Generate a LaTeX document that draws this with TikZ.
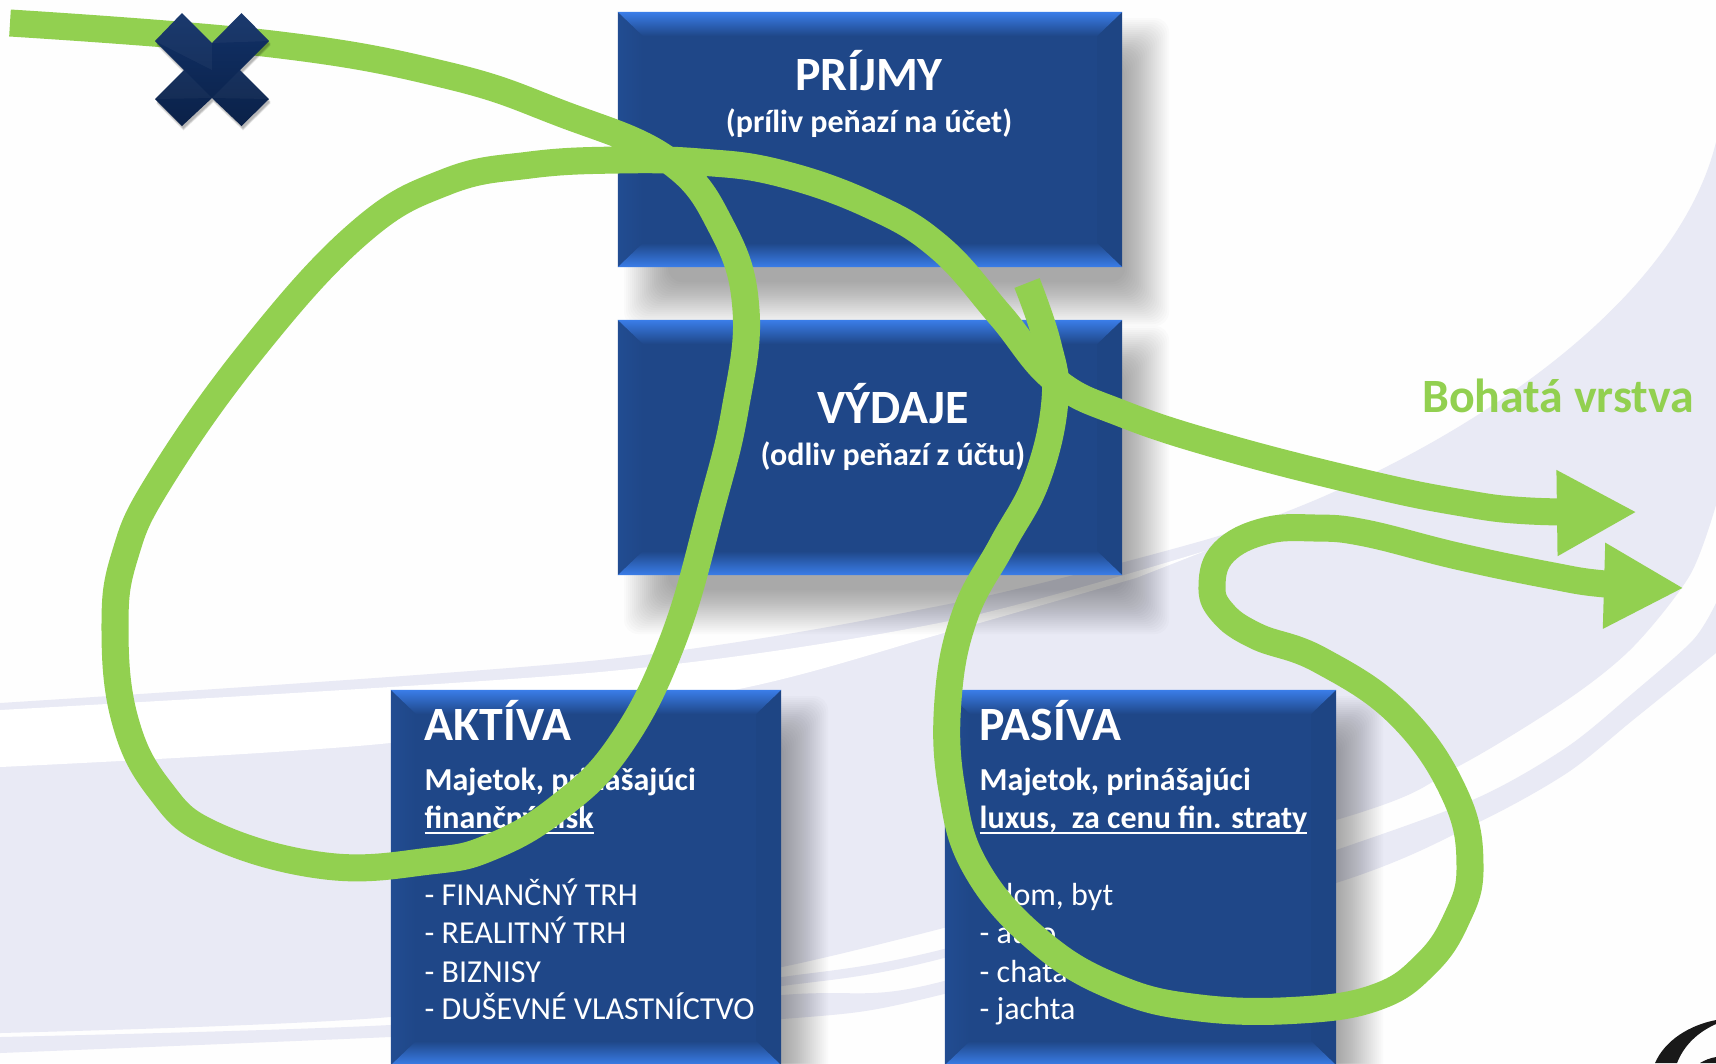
\documentclass[tikz,border=0pt]{standalone}
\usepackage{fontspec}
\setmainfont{Carlito}
\usetikzlibrary{%
  arrows.meta,%
  calc%
}
\definecolor{boxblue}{HTML}{1F4788}
\definecolor{bevelblue}{HTML}{3A7DE8}
\definecolor{crossblue}{HTML}{0E2C60}
\definecolor{swoosh}{HTML}{E9EAF5}
\definecolor{flowgreen}{HTML}{92D050}
\tikzset{
  blockbox/.style={
    fill=boxblue, inner sep=0pt,
    path picture={
      \coordinate (nw) at (path picture bounding box.north west);
      \coordinate (ne) at (path picture bounding box.north east);
      \coordinate (sw) at (path picture bounding box.south west);
      \coordinate (se) at (path picture bounding box.south east);
      \shade[left color=boxblue!90!bevelblue, right color=boxblue] (nw) -- ($(nw)+(25,24)$) -- ($(sw)+(25,-24)$) -- (sw) -- cycle;
      \fill[boxblue!97!black] (ne) -- ($(ne)+(-25,24)$) -- ($(se)+(-25,-24)$) -- (se) -- cycle;
      \shade[top color=bevelblue, bottom color=boxblue] (nw) -- (ne) -- ($(ne)+(-25,24)$) -- ($(nw)+(25,24)$) -- cycle;
      \shade[top color=boxblue, bottom color=bevelblue] (sw) -- (se) -- ($(se)+(-25,-24)$) -- ($(sw)+(25,-24)$) -- cycle;
    }
  },
  titletext/.style={text=white, font=\fontsize{13.6}{16}\selectfont\bfseries, inner sep=0pt},
  subtext/.style={text=white, font=\fontsize{9.1}{11}\selectfont\bfseries, inner sep=0pt},
  listtext/.style={text=white, font=\fontsize{9.1}{11}\selectfont, inner sep=0pt},
  flowline/.style={draw=flowgreen, line width=0.27cm, line join=round},
  flowhead/.style={-{Triangle[length=0.8cm,width=0.8cm]}}
}
\newcommand{\crossoutline}{(182,13) -- (212,43) -- (241.5,13) -- (269,41) -- (240,70) -- (269,99) -- (241.5,126) -- (212,98) -- (182,126) -- (155,99) -- (184,70) -- (155,41) -- cycle}
\newcommand{\ulinetext}[1]{\underline{\smash{#1}}}

\begin{document}
\begin{tikzpicture}[x=0.01cm, y=-0.01cm]

\useasboundingbox (0,0) rectangle (1716,1063);
\clip (0,0) rectangle (1716,1063);
\fill[white!99.5!black] (0,0) rectangle (1716,1063);

% swooshes behind everything
\fill[swoosh] (1716,142) .. controls (1680,290) and (1500,420) .. (1320,498)
  -- plot[smooth] coordinates {(1320,498) (1205,540) (944,605) (600,660) (0,703)}
  -- plot[smooth] coordinates {(0,1033) (390,1017) (782,967) (1336,820) (1457,767) (1567,700) (1633,647) (1690,575) (1716,505)} -- cycle;
\fill[white] plot[smooth] coordinates {(1205,551) (944,622) (600,672) (0,710)}
  -- plot[smooth] coordinates {(0,767) (390,743) (734,690) (944,633) (1136,578)} -- cycle;
\fill[swoosh] plot[smooth] coordinates {(0,1037) (390,1025) (782,995) (944,981) (1336,850) (1477,798) (1567,747) (1633,693) (1693,640) (1716,603)}
  -- plot[smooth] coordinates {(1716,653) (1633,720) (1567,773) (1477,823) (1336,883) (944,994) (782,1019) (390,1037) (0,1053)} -- cycle;
\fill[swoosh] plot[smooth] coordinates {(600,998) (782,977) (944,949) (1336,838)}
  -- plot[smooth] coordinates {(1336,842) (944,958) (782,986) (600,1005)} -- cycle;

% logo corner
\fill[black!90] (1655,1063) .. controls (1665,1040) and (1690,1025) .. (1716,1020) -- (1716,1024) .. controls (1698,1032) and (1684,1045) .. (1677,1063) -- cycle;
\fill[black!90] (1700,1063) .. controls (1705,1060) and (1710,1058) .. (1716,1057) -- (1716,1063) -- cycle;

% soft shadows
\foreach \xa/\ya/\xb/\yb in {618/12/1122/267, 618/320/1122/575, 391/690/781/1065, 945/690/1336/1065} {
  \foreach \i in {-22,-20,...,22} {
    \fill[black, opacity=0.016, rounded corners=4pt] (\xa+28-\i,\ya+28-\i) rectangle (\xb+25+\i,\yb+37+\i);
  }
}

\node[blockbox, minimum width=5.04cm, minimum height=2.55cm] (prijmy) at (870,139.5) {};
\node[blockbox, minimum width=5.04cm, minimum height=2.55cm] (vydaje) at (870,447.5) {};
\node[blockbox, minimum width=3.90cm, minimum height=3.75cm] (aktiva) at (586,877.5) {};
\node[blockbox, minimum width=3.91cm, minimum height=3.75cm] (pasiva) at (1140.5,877.5) {};

\node[titletext, anchor=base] (prijmytitle) at (869,90) {PRÍJMY};
\node[subtext, anchor=base] (prijmysub) at (869,132) {(príliv peňazí na účet)};
\node[titletext, anchor=base] (vydajetitle) at (893,423) {VÝDAJE};
\node[subtext, anchor=base] (vydajesub) at (893,465) {(odliv peňazí z účtu)};

\node[titletext, anchor=base west] (aktivatitle) at (424,740) {AKTÍVA};
\node[subtext, anchor=base west] (aktivaone) at (424,790) {Majetok, prinášajúci};
\node[subtext, anchor=base west] (aktivatwo) at (424,828) {\ulinetext{finančný zisk}};
\node[listtext, anchor=base west] (aktivaa) at (424,905) {- FINANČNÝ TRH};
\node[listtext, anchor=base west] (aktivab) at (424,943) {- REALITNÝ TRH};
\node[listtext, anchor=base west] (aktivac) at (424,982) {- BIZNISY};
\node[listtext, anchor=base west] (aktivad) at (424,1019) {- DUŠEVNÉ VLASTNÍCTVO};

\node[titletext, anchor=base west] (pasivatitle) at (979,740) {PASÍVA};
\node[subtext, anchor=base west] (pasivaone) at (979,790) {Majetok, prinášajúci};
\node[subtext, anchor=base west] (pasivatwo) at (979,828) {\ulinetext{luxus,~ za cenu fin. straty}};
\node[listtext, anchor=base west] (pasivaa) at (979,905) {- dom, byt};
\node[listtext, anchor=base west] (pasivab) at (979,943) {- auto};
\node[listtext, anchor=base west] (pasivac) at (979,982) {- chata};
\node[listtext, anchor=base west] (pasivad) at (979,1019) {- jachta};

\node[text=flowgreen, font=\fontsize{13.6}{16}\selectfont\bfseries, inner sep=0pt, anchor=base] (bohata) at (1558,412) {Bohatá vrstva};

% green flows
\coordinate (firststart) at (10,23);
\coordinate (firsttip) at (1637,512);
\coordinate (secondstart) at (1027,283);
\coordinate (secondtip) at (1684,588);

\draw[flowline, flowhead] plot[smooth, tension=0.7] coordinates {(firststart) (272,44) (446,75) (560,113) (668,160) (722,228) (746,310) (735,410) (712,505) (673,640) (620,745) (558,808) (491,847) (430,861) (326,866) (214,835) (160,790) (125,720) (115,627) (125,555) (160,480) (252,350) (359,233) (446,182) (530,165) (618,160) (700,162) (779,173) (870,205) (939,247) (1000,315) (1055,380) (1123,414) (1228,448) (1365,483) (1457,502) (1530,511) (firsttip)};

\draw[flowline, flowhead] plot[smooth, tension=0.7] coordinates {(secondstart) (1048,345) (1055,400) (1037,479) (1002,545) (965,615) (948,700) (952,790) (977,870) (1040,942) (1117,988) (1200,1008) (1300,1010) (1377,997) (1425,965) (1456,920) (1470,867) (1455,795) (1400,715) (1320,660) (1256,636) (1222,612) (1212,585) (1224,552) (1265,531) (1315,528) (1365,533) (1457,556) (1548,575) (1605,584) (secondtip)};

% the cross
\foreach \i in {0,...,5} {
  \fill[black, opacity=0.05, shift={(1.5,2+\i*0.5)}] \crossoutline;
}
\shade[top color=crossblue!80!boxblue, bottom color=crossblue!75!black] \crossoutline;
\fill[white, opacity=0.04] (155,41) -- (182,13) -- (212,43) -- (212,70) -- cycle;
\fill[white, opacity=0.04] (269,41) -- (241.5,13) -- (212,43) -- cycle;
\fill[white, opacity=0.04] (155,99) -- (184,70) -- (212,98) -- cycle;
\fill[white, opacity=0.04] (269,99) -- (240,70) -- (212,98) -- cycle;

\end{tikzpicture}
\end{document}
